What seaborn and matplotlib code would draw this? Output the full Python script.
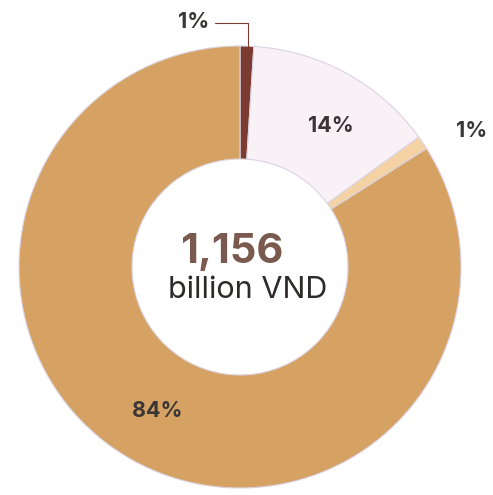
import matplotlib.pyplot as plt
import seaborn as sns

# Share of total (percent), clockwise from 12 o'clock
shares = [1, 14, 1, 84]
share_labels = ['1%', '14%', '1%', '84%']
slice_colors = ['#7B3B30', '#F8F1F6', '#F4D2A4', '#D5A264']
total_value = '1,156'
total_unit = 'billion VND'

sns.set_style('white')
plt.rcParams['font.family'] = ['Inter', 'DejaVu Sans']

W, H = 493, 495
fig = plt.figure(figsize=(W / 100, H / 100), dpi=100)
ax = fig.add_axes([0, 0, 1, 1])

cx, cy, r = 240, H - 267, 221
ax.pie(shares, colors=slice_colors, startangle=90, counterclock=False,
       center=(cx, cy), radius=r, frame=True,
       wedgeprops=dict(width=r - 108, edgecolor='#DCD3E2', linewidth=0.8))
ax.set_xlim(0, W)
ax.set_ylim(0, H)
ax.set_aspect('equal')
ax.axis('off')

label_color = '#3A3636'
pos = [(194, 22), (331, 126), (472, 131), (157, 411)]
for txt, (x, y) in zip(share_labels, pos):
    ax.text(x, H - y, txt, ha='center', va='center', fontsize=15.5,
            fontweight='bold', color=label_color)

# leader line for the small top slice
ax.plot([215, 248, 248], [H - 23, H - 23, H - 48], color='#7B3B30', lw=0.8)

ax.text(232, H - 252, total_value, ha='center', va='center', fontsize=30,
        fontweight='bold', color='#7A5A4E')
ax.text(248, H - 290, total_unit, ha='center', va='center', fontsize=22,
        color='#2E2A2A')

fig.savefig('out.png', dpi=100, facecolor='white')
